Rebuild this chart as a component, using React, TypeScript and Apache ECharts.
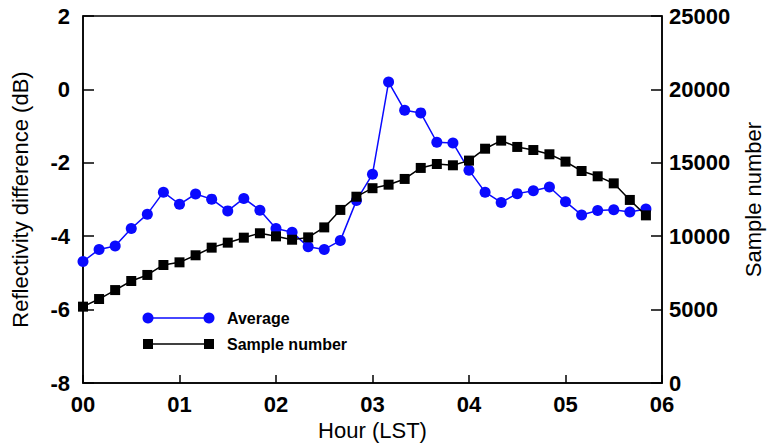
import React, { useEffect, useRef } from "react";
import * as echarts from "echarts";

// 10-minute steps from 00:00 to 05:50 (hours)
const hours: number[] = [
  0, 1 / 6, 2 / 6, 3 / 6, 4 / 6, 5 / 6,
  1, 7 / 6, 8 / 6, 9 / 6, 10 / 6, 11 / 6,
  2, 13 / 6, 14 / 6, 15 / 6, 16 / 6, 17 / 6,
  3, 19 / 6, 20 / 6, 21 / 6, 22 / 6, 23 / 6,
  4, 25 / 6, 26 / 6, 27 / 6, 28 / 6, 29 / 6,
  5, 31 / 6, 32 / 6, 33 / 6, 34 / 6, 35 / 6,
];

const averageDb: number[] = [
  -4.69, -4.36, -4.27, -3.79, -3.4, -2.8,
  -3.13, -2.85, -2.99, -3.31, -2.97, -3.29,
  -3.79, -3.89, -4.29, -4.36, -4.12, -3.03,
  -2.31, 0.2, -0.57, -0.64, -1.44, -1.46,
  -2.2, -2.8, -3.08, -2.84, -2.76, -2.66,
  -3.06, -3.42, -3.3, -3.28, -3.34, -3.26,
];

const sampleNumber: number[] = [
  5200, 5720, 6330, 6950, 7360, 8040,
  8220, 8700, 9220, 9560, 9900, 10200,
  9990, 9760, 9920, 10600, 11790, 12690,
  13270, 13510, 13900, 14650, 14920, 14830,
  15150, 15960, 16510, 16080, 15870, 15580,
  15080, 14440, 14080, 13600, 12470, 11420,
];

const xTicks: string[] = ["00", "01", "02", "03", "04", "05", "06"];
const legendNames: string[] = ["Average", "Sample number"];

const FONT = "'Liberation Sans', Arial, sans-serif";
const BLUE = "#0a0aff";

export default function App() {
  const ref = useRef<HTMLDivElement>(null);

  useEffect(() => {
    if (!ref.current) return;
    const chart = echarts.init(ref.current, null, { renderer: "svg" });

    const avgData = hours.map((h, i) => [h, averageDb[i]]);
    const smpData = hours.map((h, i) => [h, sampleNumber[i]]);

    const legendX1 = 148;
    const legendX2 = 209;
    const legendY = [318, 344];

    chart.setOption({
      animation: false,
      backgroundColor: "#ffffff",
      grid: {
        left: 83,
        right: 100,
        top: 16,
        bottom: 65,
        show: true,
        borderColor: "#000",
        borderWidth: 1.5,
        backgroundColor: "transparent",
      },
      xAxis: {
        type: "value",
        min: 0,
        max: 6,
        interval: 1,
        name: "Hour (LST)",
        nameLocation: "middle",
        nameGap: 34,
        nameTextStyle: { fontFamily: FONT, fontSize: 22, color: "#000", verticalAlign: "top" },
        axisLine: { show: true, onZero: false, lineStyle: { color: "#000", width: 1.5 } },
        axisTick: { show: true, inside: true, length: 8, lineStyle: { color: "#000", width: 1.5 } },
        splitLine: { show: false },
        axisLabel: {
          margin: 10,
          fontFamily: FONT,
          fontSize: 22,
          fontWeight: "bold",
          color: "#000",
          formatter: (v: number) => xTicks[Math.round(v)] ?? "",
        },
      },
      yAxis: [
        {
          type: "value",
          position: "left",
          min: -8,
          max: 2,
          interval: 2,
          name: "Reflectivity difference (dB)",
          nameLocation: "middle",
          nameGap: 52,
          nameTextStyle: { fontFamily: FONT, fontSize: 22, color: "#000" },
          axisLine: { show: true, onZero: false, lineStyle: { color: "#000", width: 1.5 } },
          axisTick: { show: true, inside: true, length: 11, lineStyle: { color: "#000", width: 1.5 } },
          splitLine: { show: false },
          axisLabel: {
            margin: 13,
            fontFamily: FONT,
            fontSize: 22,
            fontWeight: "bold",
            color: "#000",
          },
        },
        {
          type: "value",
          position: "right",
          min: 0,
          max: 25000,
          interval: 5000,
          name: "Sample number",
          nameLocation: "middle",
          nameRotate: 90,
          nameGap: 80,
          nameTextStyle: { fontFamily: FONT, fontSize: 22, color: "#000" },
          axisLine: { show: true, onZero: false, lineStyle: { color: "#000", width: 1.5 } },
          axisTick: { show: true, inside: true, length: 11, lineStyle: { color: "#000", width: 1.5 } },
          splitLine: { show: false },
          axisLabel: {
            margin: 7,
            fontFamily: FONT,
            fontSize: 22,
            fontWeight: "bold",
            color: "#000",
            formatter: (v: number) => String(v),
          },
        },
      ],
      series: [
        {
          name: legendNames[0],
          type: "line",
          yAxisIndex: 0,
          data: avgData,
          symbol: "circle",
          symbolSize: 11,
          lineStyle: { color: BLUE, width: 1.5 },
          itemStyle: { color: BLUE },
          z: 2,
        },
        {
          name: legendNames[1],
          type: "line",
          yAxisIndex: 1,
          data: smpData,
          symbol: "rect",
          symbolSize: 10,
          lineStyle: { color: "#000", width: 1.5 },
          itemStyle: { color: "#000" },
          z: 3,
        },
      ],
      graphic: [
        {
          type: "group",
          children: [
            { type: "line", shape: { x1: legendX1, y1: legendY[0], x2: legendX2, y2: legendY[0] }, style: { stroke: BLUE, lineWidth: 1.5 } },
            { type: "circle", shape: { cx: legendX1, cy: legendY[0], r: 5.5 }, style: { fill: BLUE } },
            { type: "circle", shape: { cx: legendX2, cy: legendY[0], r: 5.5 }, style: { fill: BLUE } },
            {
              type: "text",
              x: 227,
              y: legendY[0],
              style: { text: legendNames[0], fill: "#000", font: `bold 16px ${FONT}`, verticalAlign: "middle", align: "left" },
            },
            { type: "line", shape: { x1: legendX1, y1: legendY[1], x2: legendX2, y2: legendY[1] }, style: { stroke: "#000", lineWidth: 1.5 } },
            { type: "rect", shape: { x: legendX1 - 5, y: legendY[1] - 5, width: 10, height: 10 }, style: { fill: "#000" } },
            { type: "rect", shape: { x: legendX2 - 5, y: legendY[1] - 5, width: 10, height: 10 }, style: { fill: "#000" } },
            {
              type: "text",
              x: 227,
              y: legendY[1],
              style: { text: legendNames[1], fill: "#000", font: `bold 16px ${FONT}`, verticalAlign: "middle", align: "left" },
            },
          ],
        },
      ],
    });

    return () => chart.dispose();
  }, []);

  return <div ref={ref} style={{ width: 772, height: 448, position: "absolute", left: 0, top: 0 }} />;
}
